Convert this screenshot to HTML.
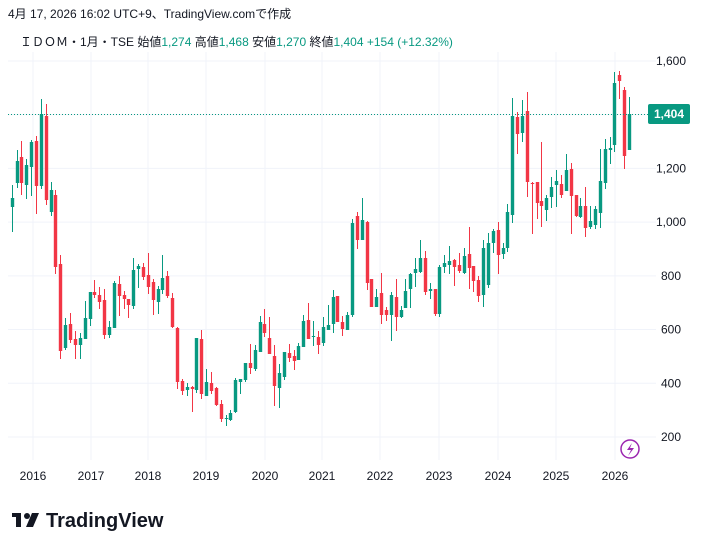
<!DOCTYPE html>
<html><head><meta charset="utf-8"><style>
body{margin:0;width:709px;height:550px;background:#fff;overflow:hidden;font-family:"Liberation Sans","Noto Sans CJK JP",sans-serif;}
</style></head><body>
<svg id="s" width="709" height="550" xmlns="http://www.w3.org/2000/svg" style="position:absolute;left:0;top:0">
<text x="8" y="18" font-size="12" fill="#131722">4月 17, 2026 16:02 UTC+9、TradingView.comで作成</text>
<text x="20" y="46" font-size="12" fill="#131722">ＩＤＯＭ・1月・TSE  始値<tspan fill="#089981">1,274</tspan>  高値<tspan fill="#089981">1,468</tspan>  安値<tspan fill="#089981">1,270</tspan>  終値<tspan fill="#089981">1,404  +154 (+12.32%)</tspan></text>
<g id="grid"></g>
<g id="c"></g>
<line x1="8" y1="114.5" x2="656" y2="114.5" stroke="#089981" stroke-dasharray="1,2"/>
<rect x="648" y="104" width="42" height="20" rx="2" fill="#089981"/>
<text x="669" y="118" font-size="12" font-weight="bold" fill="#fff" text-anchor="middle">1,404</text>
<circle cx="630" cy="449" r="9" fill="none" stroke="#9c27b0" stroke-width="1.5"/>
<path d="M632 443 L627 450 L631 450 L628 456 L634 448 L630 448 Z" fill="#9c27b0"/>
<g font-size="12" fill="#131722" text-anchor="middle" id="xl"></g>
<g font-size="12" fill="#131722" text-anchor="middle" id="yl"></g>
<g transform="translate(12,511)"><rect x="0" y="2" width="9" height="4" fill="#131722"/><rect x="4" y="2" width="5" height="14" fill="#131722"/><circle cx="15" cy="5" r="3" fill="#131722"/><path d="M20 2 L27 2 L21 16 L14 16 Z" fill="#131722"/></g>
<text x="46" y="527" font-size="20" font-weight="bold" fill="#131722">TradingView</text>
</svg>
<script>
var NS="http://www.w3.org/2000/svg";
function el(p,t,a,tx){var e=document.createElementNS(NS,t);for(var k in a)e.setAttribute(k,a[k]);if(tx)e.textContent=tx;document.getElementById(p).appendChild(e);}
function Y(p){return 437-(p-200)*0.2686;}
var years=[[2016,33],[2017,91],[2018,148],[2019,206],[2020,265],[2021,322],[2022,380],[2023,439],[2024,498],[2025,556],[2026,615]];
years.forEach(function(y){el("grid","line",{x1:y[1],x2:y[1],y1:52,y2:460,stroke:"#f0f3fa"});el("xl","text",{x:y[1],y:480},y[0]);});
[200,400,600,800,1000,1200,1400,1600].forEach(function(p){el("grid","line",{x1:8,x2:656,y1:Y(p),y2:Y(p),stroke:"#f0f3fa"});if(p!=1400)el("yl","text",{x:671,y:Y(p)+4},p.toLocaleString("en-US"));});
var D=[
[12,198,207,185,232,1],[17,161,183,150,188,1],[21,157,183,141,195,0],[26,165,185,159,199,1],[31,142,167,140,196,1],[36,141,186,136,214,0],[41,114,186,99,189,1],[46,116,200,104,205,0],[51,190,212,182,216,1],[55,195,267,190,274,0],[60,264,351,255,359,0],[65,325,348,318,350,1],[70,324,340,313,343,0],[75,339,345,331,359,0],[80,338,345,333,359,1],[85,318,339,301,339,1],[90,292,319,292,326,1],[94,292,295,280,298,0],[99,295,302,287,309,0],[104,300,335,289,339,0],[109,327,335,321,338,1],[114,283,328,281,328,1],[119,284,296,276,316,0],[124,295,299,291,309,0],[128,299,305,299,318,0],[133,270,306,258,309,1],[138,266,269,264,288,1],[143,267,277,263,280,0],[148,275,287,253,294,0],[153,282,300,279,315,0],[158,289,302,286,314,1],[162,278,290,255,294,1],[167,276,296,271,298,0],[172,298,327,293,328,0],[177,328,382,327,389,0],[182,381,391,379,395,0],[187,387,390,383,396,1],[192,387,389,386,412,0],[196,338,390,338,393,1],[201,339,394,330,399,0],[206,382,396,369,396,1],[211,383,391,372,394,0],[216,388,405,387,406,0],
[221,404,419,400,422,0],[226,418,419,415,426,1],[230,413,420,410,421,1],[235,380,412,378,413,1],[240,379,382,379,394,1],[245,363,380,363,382,1],[250,363,368,344,374,0],[255,350,369,345,371,1],[260,322,352,316,352,1],[264,324,333,309,337,0],[269,338,354,317,354,0],[274,356,386,345,406,0],[279,373,388,364,408,1],[284,352,377,352,380,1],[289,353,358,344,362,0],[294,356,361,350,370,0],[298,346,360,343,360,1],[303,321,347,315,347,1],[308,320,339,303,339,0],[313,336,337,321,346,1],[318,337,345,331,354,0],[323,327,343,317,346,1],[328,325,330,305,330,1],[333,297,324,290,333,1],[337,296,322,296,322,0],[342,322,329,316,336,0],[347,315,330,312,330,1],[352,223,315,219,317,1],[357,216,240,212,249,0],[362,220,240,198,240,1],[367,222,283,221,290,0],[371,279,307,279,307,0],[376,297,307,289,307,1],[381,293,315,273,324,0],[386,310,315,307,321,0],[391,295,315,292,341,1],[396,297,317,279,331,0],[401,310,317,306,318,1],[405,291,308,279,308,1],[410,274,289,273,308,1],[415,269,273,258,287,1],[420,258,272,240,273,1],[425,258,292,251,295,0],
[430,289,291,283,299,1],[435,289,314,289,316,0],[439,267,314,265,317,1],[444,263,267,255,273,1],[449,261,265,246,274,1],[454,260,267,259,286,0],[459,265,271,253,273,0],[464,256,273,248,274,1],[469,254,268,227,289,0],[473,266,281,266,292,0],[478,280,296,276,302,0],[483,248,295,240,307,1],[488,243,285,233,288,1],[493,231,243,229,253,1],[498,230,255,222,274,0],[503,248,254,243,259,1],[507,212,248,204,252,1],[512,116,215,98,223,1],[517,117,134,112,154,0],[522,116,133,100,142,1],[527,111,182,92,197,0],[532,183,184,182,234,0],[537,182,203,182,219,0],[541,201,206,142,227,0],[546,198,210,195,221,1],[551,187,197,177,208,1],[556,181,185,170,207,1],[561,184,195,175,198,0],[566,170,191,154,191,1],[571,169,196,163,234,0],[576,195,216,195,217,0],[580,206,217,198,218,1],[585,206,228,187,237,0],[590,221,227,206,229,1],[595,209,225,206,229,1],[600,181,213,149,228,1],[605,149,183,139,189,1],[610,148,150,137,164,1],[614,83,145,72,152,1],[619,75,81,71,99,0],[624,90,156,87,169,0],[629,114,150,97,150,1]];
D.forEach(function(d){var col=d[5]?"#089981":"#f23645";
 el("c","line",{x1:d[0]+0.5,x2:d[0]+0.5,y1:d[3],y2:d[4],stroke:col});
 el("c","rect",{x:d[0]-1.2,y:d[1],width:3.4,height:Math.max(1,d[2]-d[1]),fill:col});});
</script>
</body></html>
